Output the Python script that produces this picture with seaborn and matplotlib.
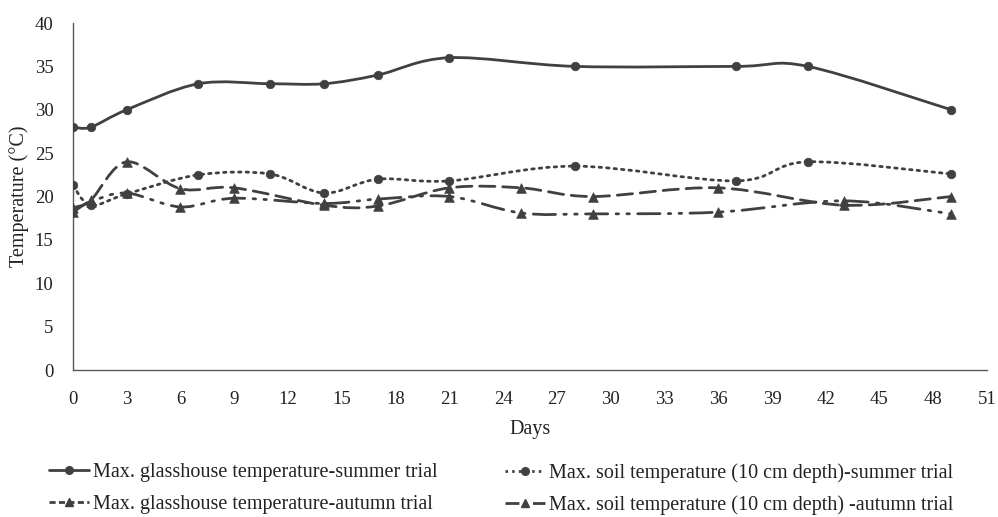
import numpy as np
import pandas as pd
import matplotlib
matplotlib.use("Agg")
import matplotlib.pyplot as plt
import seaborn as sns
from matplotlib.path import Path
from matplotlib.patches import PathPatch
from matplotlib.lines import Line2D

# ---- data ----
summer_days = [0, 1, 3, 7, 11, 14, 17, 21, 28, 37, 41, 49]
summer_glasshouse = [28, 28, 30, 33, 33, 33, 34, 36, 35, 35, 35, 30]
summer_soil = [21.3, 19.0, 20.3, 22.5, 22.6, 20.4, 22.0, 21.8, 23.5, 21.8, 24.0, 22.6]

autumn_days = [0, 1, 3, 6, 9, 14, 17, 21, 25, 29, 36, 43, 49]
autumn_glasshouse = [18.7, 19.6, 24.0, 20.9, 21.0, 19.0, 18.9, 21.0, 21.0, 20.0, 21.0, 19.0, 20.0]
autumn_soil = [18.2, 19.4, 20.4, 18.8, 19.8, 19.2, 19.7, 20.0, 18.1, 18.0, 18.2, 19.5, 18.0]

labels = [
    "Max. glasshouse temperature-summer trial",
    "Max. glasshouse temperature-autumn trial",
    "Max. soil temperature (10 cm depth)-summer trial",
    "Max. soil temperature (10 cm depth) -autumn trial",
]
x_ticks = list(range(0, 52, 3))
y_ticks = list(range(0, 41, 5))

sns.set_theme(style="white")
plt.rcParams["font.family"] = ["Liberation Serif", "DejaVu Serif"]

C = "#404040"
TXT = "#222222"
fig = plt.figure(figsize=(9.98, 5.17), dpi=100)
ax = fig.add_axes([0.0731, 0.2843, 0.9159, 0.6712])


def smooth_path(xs, ys):
    pts = np.column_stack([xs, ys]).astype(float)
    n = len(pts)
    verts = [pts[0]]
    codes = [Path.MOVETO]
    for i in range(n - 1):
        p0 = pts[i - 1] if i > 0 else pts[i]
        p1 = pts[i]
        p2 = pts[i + 1]
        p3 = pts[i + 2] if i + 2 < n else pts[i + 1]
        c1 = p1 + (p2 - p0) / 6.0
        c2 = p2 - (p3 - p1) / 6.0
        verts += [c1, c2, p2]
        codes += [Path.CURVE4] * 3
    return Path(verts, codes)


series = [
    (summer_days, summer_glasshouse, "-", "o", labels[0]),
    (autumn_days, autumn_glasshouse, (0, (5.5, 2.8)), "^", labels[1]),
    (summer_days, summer_soil, (0, (0.9, 1.8)), "o", labels[2]),
    (autumn_days, autumn_soil, (0, (8, 3, 0.9, 3, 0.9, 3)), "^", labels[3]),
]
legend_styles = ["-", (0, (2.2, 1.2)), (0, (0.9, 1.5)), (0, (5, 2, 0.9, 2))]

handles = []
for (xs, ys, ls, mk, lab), lls in zip(series, legend_styles):
    patch = PathPatch(smooth_path(xs, ys), facecolor="none", edgecolor=C,
                      lw=2.0, linestyle=ls, capstyle="round", zorder=2)
    ax.add_patch(patch)
    df = pd.DataFrame({"day": xs, "temp": ys})
    sns.scatterplot(data=df, x="day", y="temp", ax=ax, marker=mk, color=C,
                    s=38 if mk == "o" else 48, edgecolor=C, linewidth=0.5,
                    zorder=3, legend=False)
    handles.append(Line2D([], [], color=C, lw=2.0, linestyle=lls, marker=mk,
                          markersize=5.5, markeredgecolor=C, label=lab))

ax.set_xlim(0, 51)
ax.set_ylim(0, 40)
ax.set_xticks(x_ticks)
ax.set_yticks(y_ticks)
ax.tick_params(axis="both", length=0, labelsize=13.5, colors=TXT)
ax.tick_params(axis="x", pad=15)
ax.tick_params(axis="y", pad=14)
for s in ["top", "right"]:
    ax.spines[s].set_visible(False)
for s in ["left", "bottom"]:
    ax.spines[s].set_color("#595959")
    ax.spines[s].set_linewidth(1.0)
ax.set_xlabel("Days", fontsize=14.5, color=TXT, labelpad=9)
ax.set_ylabel("Temperature (°C)", fontsize=14.5, color=TXT, labelpad=4)

leg_kw = dict(frameon=False, fontsize=14.5, handlelength=2.0, handletextpad=0.2,
              labelspacing=0.62, labelcolor=TXT, borderaxespad=0, borderpad=0)
l1 = fig.legend(handles=handles[:2], loc="upper left",
                bbox_to_anchor=(0.049, 0.104), **leg_kw)
l2 = fig.legend(handles=handles[2:], loc="upper left",
                bbox_to_anchor=(0.506, 0.104), **leg_kw)

fig.savefig("out.png", dpi=100)
